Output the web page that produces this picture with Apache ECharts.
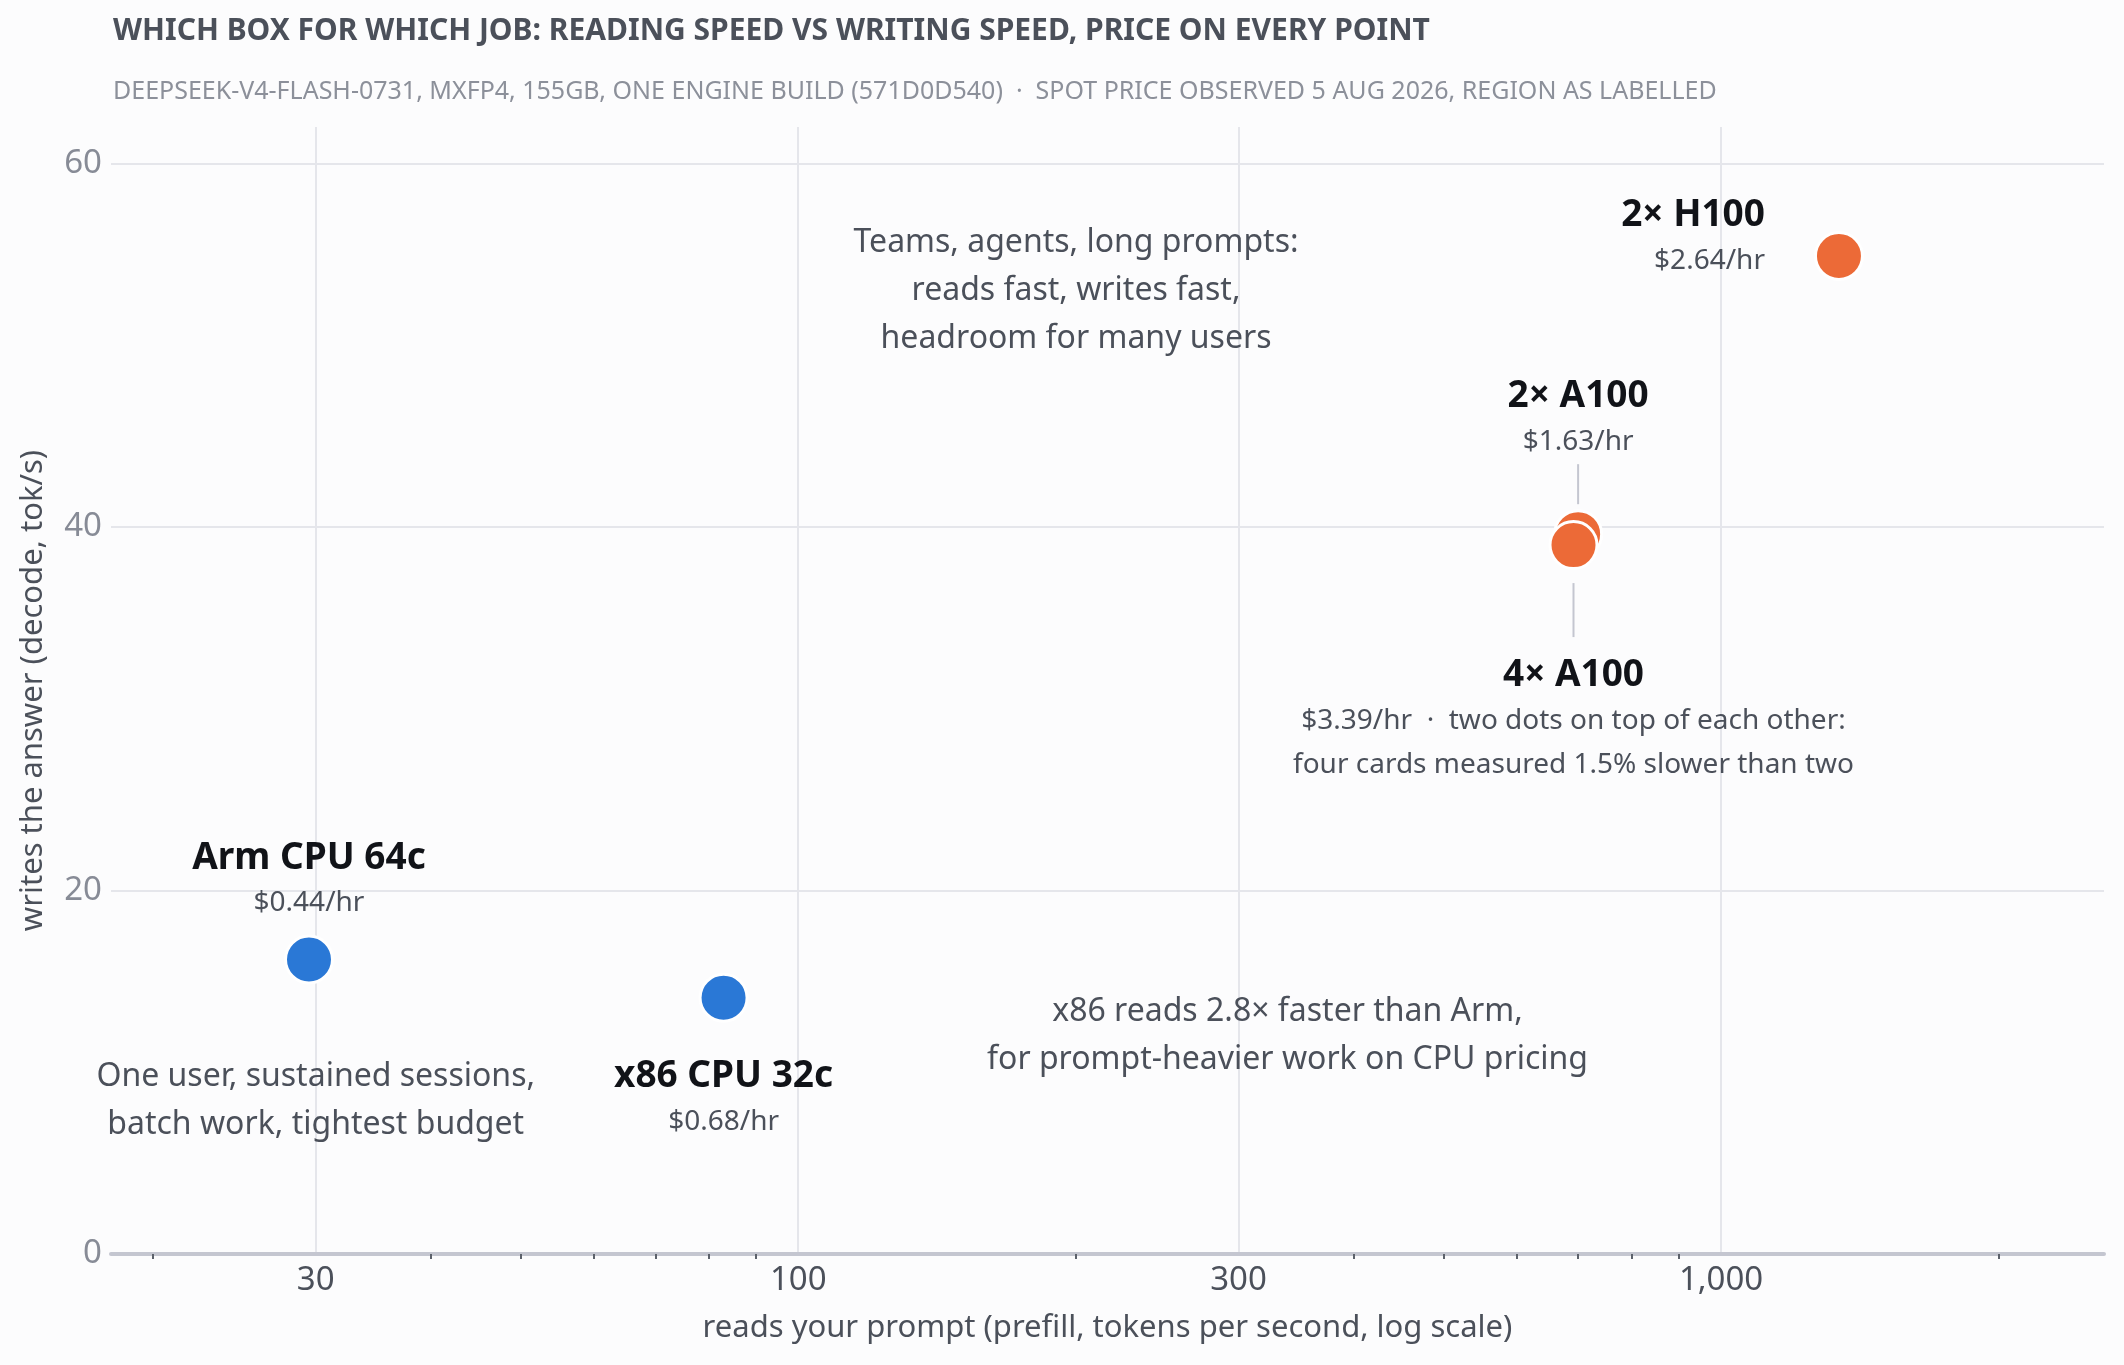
<!DOCTYPE html>
<html>
<head>
<meta charset="utf-8">
<title>Which box for which job</title>
<script src="https://cdn.jsdelivr.net/npm/echarts@6/dist/echarts.min.js"></script>
<style>
    html, body { margin: 0; padding: 0; background: #fcfcfd; }
    #main { width: 2124px; height: 1365px; }
</style>
</head>
<body>
<div id="main"></div>
<script>
// measured boxes (prefill tok/s, decode tok/s, spot price)
var boxNames = ['Arm CPU 64c', 'x86 CPU 32c', '2× A100', '4× A100', '2× H100'];
var boxKind = ['cpu', 'cpu', 'gpu', 'gpu', 'gpu'];
var prefillTps = [29.5, 83, 700, 692, 1342];
var decodeTps = [16.2, 14.1, 39.6, 39.0, 54.9];
var priceLabels = ['$0.44/hr', '$0.68/hr', '$1.63/hr', '$3.39/hr', '$2.64/hr'];
var extraNotes = ['', '', '', '  ·  two dots on top of each other:\nfour cards measured 1.5% slower than two', ''];

// free text notes, anchored in data space
var noteTexts = [
    'Teams, agents, long prompts:\nreads fast, writes fast,\nheadroom for many users',
    'One user, sustained sessions,\nbatch work, tightest budget',
    'x86 reads 2.8× faster than Arm,\nfor prompt-heavier work on CPU pricing'
];
var noteX = [200, 30, 339];
var noteY = [53.0, 8.4, 12.0];

// axis ticks
var xLabelValues = [30, 100, 300, 1000];
var xMinorValues = [20, 40, 50, 60, 70, 80, 90, 200, 400, 500, 600, 700, 800, 900, 2000];
var yLabelValues = [0, 20, 40, 60];

var FONT = '"Noto Sans", "Open Sans", sans-serif';
var INK = '#4b505a';
var MUTED = '#878b96';
var GRIDC = '#e5e6eb';
var LEADER = '#c4c6d0';
var BLUE = '#2a78d6';
var ORANGE = '#ec6a37';

var chart = echarts.init(document.getElementById('main'));

// where each box's label sits; lead = leader line above/below the dot
var placement = {
    'Arm CPU 64c': {position: 'top', distance: 9},
    'x86 CPU 32c': {position: 'bottom', distance: 30},
    '2× A100': {position: 'top', distance: 5, lead: 'below'},
    '4× A100': {position: 'bottom', distance: 13, lead: 'above'},
    '2× H100': {position: 'left', distance: 49, offset: [0, -19], align: 'right'}
};

function boxLabel(i) {
    var pl = placement[boxNames[i]];
    var lines = [];
    if (pl.lead == 'above') {
        lines.push('{barLong|}');
        lines.push('{gap|}');
    }
    lines.push('{n|' + boxNames[i] + '}');
    var rest = extraNotes[i] ? extraNotes[i].split('\n') : [''];
    lines.push('{p|' + priceLabels[i] + rest[0] + '}');
    for (var k = 1; k < rest.length; k++) {
        lines.push('{p|' + rest[k] + '}');
    }
    if (pl.lead == 'below') {
        lines.push('{bar|}');
    }
    return lines.join('\n');
}

var boxData = [];
for (var i = 0; i < boxNames.length; i++) {
    var pl = placement[boxNames[i]];
    boxData.push({
        name: boxNames[i],
        value: [prefillTps[i], decodeTps[i]],
        itemStyle: {color: boxKind[i] == 'cpu' ? BLUE : ORANGE},
        label: {
            position: pl.position,
            distance: pl.distance,
            offset: pl.offset || [0, 0],
            align: pl.align || 'center',
            formatter: boxLabel(i)
        }
    });
}

var noteData = [];
for (var j = 0; j < noteTexts.length; j++) {
    noteData.push({name: 'note' + j, value: [noteX[j], noteY[j]], label: {formatter: noteTexts[j]}});
}

chart.setOption({
    backgroundColor: '#fcfcfd',
    animation: false,
    textStyle: {fontFamily: FONT},
    title: [{
        text: 'WHICH BOX FOR WHICH JOB: READING SPEED VS WRITING SPEED, PRICE ON EVERY POINT',
        left: 108,
        top: 11,
        textStyle: {fontFamily: FONT, fontSize: 30, fontWeight: 'bold', color: INK}
    }, {
        text: 'DEEPSEEK-V4-FLASH-0731, MXFP4, 155GB, ONE ENGINE BUILD (571D0D540)  ·  SPOT PRICE OBSERVED 5 AUG 2026, REGION AS LABELLED',
        left: 108,
        top: 74,
        textStyle: {fontFamily: FONT, fontSize: 25, fontWeight: 'normal', color: '#8c909a'}
    }],
    grid: {left: 111, right: 20, top: 127, bottom: 111, containLabel: false},
    xAxis: [{
        type: 'log',
        logBase: 10,
        min: 18,
        max: 2600,
        name: 'reads your prompt (prefill, tokens per second, log scale)',
        nameLocation: 'middle',
        nameGap: 59,
        nameTextStyle: {fontFamily: FONT, fontSize: 31, color: INK},
        axisLine: {lineStyle: {color: '#c4c6d0', width: 4}},
        axisTick: {show: false, customValues: xLabelValues},
        axisLabel: {
            customValues: xLabelValues,
            fontFamily: FONT,
            fontSize: 33,
            color: INK,
            margin: 10,
            formatter: function (v) { return Number(v).toLocaleString('en-US'); }
        },
        splitLine: {show: true, lineStyle: {color: GRIDC, width: 2}}
    }, {
        type: 'log',
        logBase: 10,
        min: 18,
        max: 2600,
        position: 'bottom',
        axisLine: {show: false},
        axisLabel: {show: false},
        splitLine: {show: false},
        axisTick: {show: true, customValues: xMinorValues, length: 5, lineStyle: {color: '#5c616b', width: 2}}
    }],
    yAxis: {
        type: 'value',
        min: 0,
        max: 62,
        interval: 20,
        name: 'writes the answer (decode, tok/s)',
        nameLocation: 'middle',
        nameGap: 62,
        nameTextStyle: {fontFamily: FONT, fontSize: 31, color: INK},
        axisLine: {show: false},
        axisTick: {show: false, customValues: yLabelValues},
        axisLabel: {customValues: yLabelValues, fontFamily: FONT, fontSize: 33, color: MUTED, margin: 9, lineHeight: 46, padding: [8, 0, 0, 0]},
        splitLine: {lineStyle: {color: GRIDC, width: 2}}
    },
    series: [{
        name: 'notes',
        type: 'scatter',
        xAxisIndex: 0,
        silent: true,
        symbolSize: 1,
        itemStyle: {color: 'rgba(0,0,0,0)', opacity: 1},
        label: {show: true, position: 'inside', fontFamily: FONT, fontSize: 32, lineHeight: 48, color: INK, align: 'center'},
        data: noteData
    }, {
        name: 'boxes',
        type: 'scatter',
        xAxisIndex: 0,
        symbolSize: 47,
        itemStyle: {borderColor: '#ffffff', borderWidth: 3, opacity: 1},
        label: {
            show: true,
            fontFamily: FONT,
            rich: {
                n: {fontFamily: FONT, fontSize: 37, fontWeight: 'bold', color: '#111318', lineHeight: 47},
                p: {fontFamily: FONT, fontSize: 28, color: INK, lineHeight: 44},
                bar: {width: 2, height: 40, lineHeight: 40, backgroundColor: LEADER},
                barLong: {width: 2, height: 54, lineHeight: 54, backgroundColor: LEADER},
                gap: {height: 15, lineHeight: 15, fontSize: 1}
            }
        },
        data: boxData
    }]
});
</script>
</body>
</html>
